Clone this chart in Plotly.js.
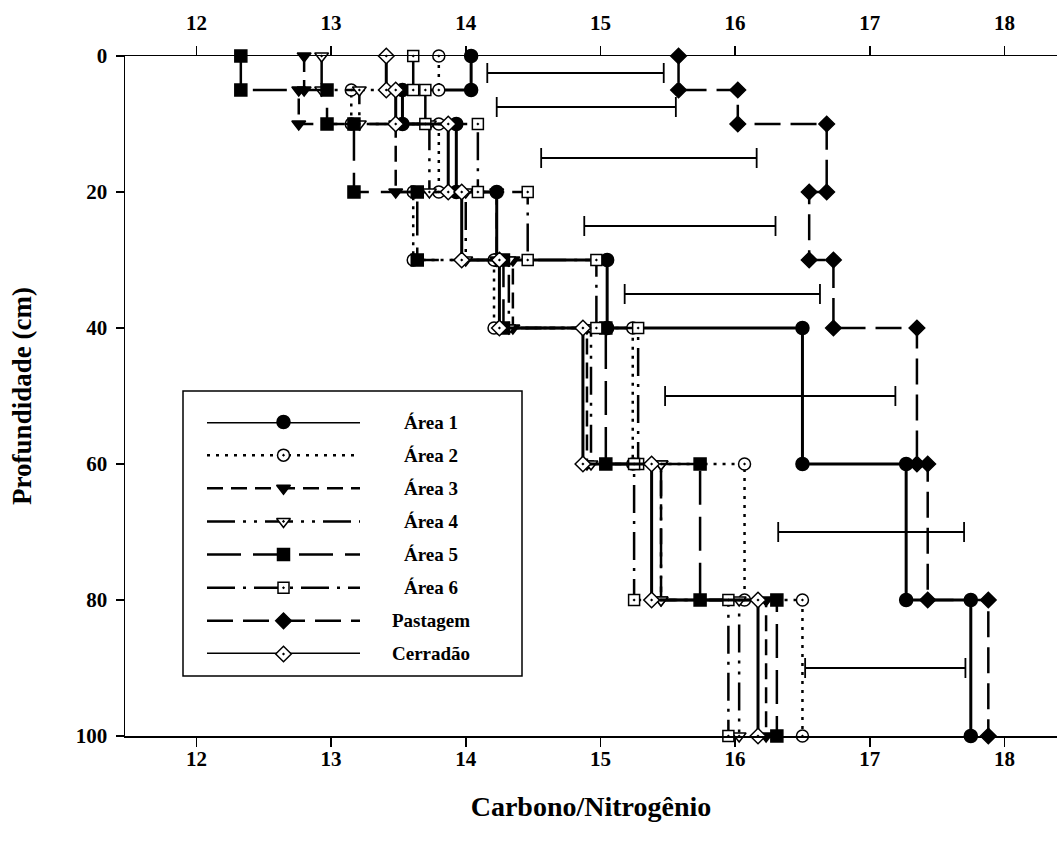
<!DOCTYPE html>
<html><head><meta charset="utf-8">
<script src="https://cdn.plot.ly/plotly-3.0.1.min.js"></script>
<style>html,body{margin:0;padding:0;background:#fff}</style>
</head><body><div id="chart" style="width:1059px;height:845px"></div>
<script>
// ---- data (layer values, C/N ratio) ----
const depthBounds = [0, 5, 10, 20, 30, 40, 60, 80, 100];
const seriesNames = ['Área 1', 'Área 2', 'Área 3', 'Área 4', 'Área 5', 'Área 6', 'Pastagem', 'Cerradão'];
const area1    = [14.04, 13.53, 13.93, 14.23, 15.05, 16.50, 17.27, 17.75];
const area2    = [13.80, 13.15, 13.80, 13.61, 14.21, 15.24, 16.07, 16.50];
const area3    = [12.80, 12.76, 13.48, 14.23, 14.35, 14.90, 15.45, 16.23];
const area4    = [12.93, 13.21, 13.73, 14.00, 14.32, 14.93, 15.45, 16.03];
const area5    = [12.33, 12.97, 13.17, 13.64, 14.28, 15.04, 15.74, 16.31];
const area6    = [13.61, 13.70, 14.09, 14.46, 14.97, 15.28, 15.25, 15.95];
const pastagem = [15.58, 16.02, 16.68, 16.55, 16.73, 17.35, 17.43, 17.88];
const cerradao = [13.41, 13.48, 13.87, 13.97, 14.25, 14.87, 15.38, 16.17];
// LSD bars
const lsdDepth = [2.5, 7.5, 15, 25, 35, 50, 70, 90];
const lsdLow   = [14.16, 14.23, 14.56, 14.88, 15.18, 15.48, 16.32, 16.52];
const lsdHigh  = [15.47, 15.56, 16.16, 16.30, 16.63, 17.19, 17.70, 17.71];
// ticks
const xTicks = [12, 13, 14, 15, 16, 17, 18];
const yTicks = [0, 20, 40, 60, 80, 100];

const allSeries = [area1, area2, area3, area4, area5, area6, pastagem, cerradao];
const styles = [
  {symbol:'circle',            size:13, fill:'#000', dash:'solid',                    width:3},
  {symbol:'circle-dot',        size:12, fill:'#fff', dash:'3px,6px',                  width:2.5},
  {symbol:'triangle-down',     size:12, fill:'#000', dash:'16px,8px',                 width:2.5},
  {symbol:'triangle-down-dot', size:12, fill:'#fff', dash:'28px,8px,3px,8px,3px,8px', width:2.5},
  {symbol:'square',            size:12, fill:'#000', dash:'34px,12px',                width:2.5},
  {symbol:'square-dot',        size:11, fill:'#fff', dash:'28px,8px,3px,8px',         width:2.5},
  {symbol:'diamond',           size:12, fill:'#000', dash:'26px,10px',                width:2.5},
  {symbol:'diamond-dot',       size:12, fill:'#fff', dash:'solid',                    width:3}
];

function stepXY(vals) {
  const x = [], y = [];
  vals.forEach((v, i) => { x.push(v, v); y.push(depthBounds[i], depthBounds[i + 1]); });
  return {x, y};
}

const traces = [];
// LSD bars
traces.push({
  type:'scatter', mode:'markers',
  x: lsdLow.map((l, i) => (l + lsdHigh[i]) / 2),
  y: lsdDepth,
  marker:{size:1, opacity:0},
  error_x:{type:'data', symmetric:true, array: lsdLow.map((l, i) => (lsdHigh[i] - l) / 2),
           color:'#000', thickness:1.8, width:10},
  cliponaxis:false, hoverinfo:'skip', showlegend:false
});
allSeries.forEach((vals, k) => {
  const s = styles[k];
  const p = stepXY(vals);
  traces.push({
    type:'scatter', mode:'lines+markers', name: seriesNames[k],
    x: p.x, y: p.y,
    line:{color:'#000', width:s.width, dash:s.dash},
    marker:{symbol:s.symbol, size:s.size, color:s.fill, line:{color:'#000', width:1.5}},
    cliponaxis:false, showlegend:false
  });
});
// top axis host (draws nothing)
traces.push({type:'scatter', mode:'none', x: stepXY(area1).x, y: stepXY(area1).y, xaxis:'x2', yaxis:'y', hoverinfo:'skip', showlegend:false});

// custom legend subplot (long line samples like the original)
const annotations = [];
const legYTop = 422, legStep = 33.14, plotTop = 56, plotH = 680, plotL = 125, plotW = 932;
seriesNames.forEach((nm, k) => {
  const s = styles[k];
  traces.push({type:'scatter', mode:'lines', x:[0, 1], y:[k, k], xaxis:'x3', yaxis:'y3',
    line:{color:'#000', width:s.width, dash:s.dash}, cliponaxis:false, hoverinfo:'skip', showlegend:false});
  traces.push({type:'scatter', mode:'markers', x:[0.5], y:[k], xaxis:'x3', yaxis:'y3',
    marker:{symbol:s.symbol, size:s.size, color:s.fill, line:{color:'#000', width:1.5}},
    cliponaxis:false, hoverinfo:'skip', showlegend:false});
  annotations.push({xref:'paper', yref:'paper', x:(431 - plotL) / plotW,
    y: 1 - (legYTop + k * legStep - plotTop) / plotH, xanchor:'center', yanchor:'middle',
    text: nm, showarrow:false, font:{family:'Liberation Serif', size:19, weight:700, color:'#000'}});
});

const axCommon = {
  range:[11.47, 18.39], tickvals:xTicks, ticks:'outside', ticklen:9, tickwidth:1.5, tickcolor:'#000',
  showline:true, linewidth:1.5, linecolor:'#000', showgrid:false, zeroline:false,
  tickfont:{family:'Liberation Serif', size:21, weight:700, color:'#000'}
};

const layout = {
  width:1059, height:845,
  margin:{l:125, r:2, t:56, b:109, pad:0},
  paper_bgcolor:'#fff', plot_bgcolor:'rgba(0,0,0,0)',
  showlegend:false,
  font:{family:'Liberation Serif', color:'#000'},
  xaxis: Object.assign({}, axCommon, {side:'bottom', anchor:'y', ticklabelstandoff:-6,
    title:{text:'Carbono/Nitrogênio', font:{family:'Liberation Serif', size:28, weight:700, color:'#000'}, standoff:26}}),
  xaxis2: Object.assign({}, axCommon, {side:'top', overlaying:'x', anchor:'y', ticklabelstandoff:7}),
  yaxis:{range:[100, 0], tickvals:yTicks, ticks:'outside', ticklen:8, tickwidth:1.5, tickcolor:'#000',
    showline:true, linewidth:1.5, linecolor:'#000', showgrid:false, zeroline:false, ticklabelstandoff:4,
    tickfont:{family:'Liberation Serif', size:21, weight:700, color:'#000'},
    title:{text:'Profundidade (cm)', font:{family:'Liberation Serif', size:27, weight:700, color:'#000'}, standoff:36}},
  xaxis3:{domain:[(207 - plotL) / plotW, (360 - plotL) / plotW], anchor:'y3', range:[0, 1], visible:false, fixedrange:true},
  yaxis3:{domain:[1 - (654 - plotTop) / plotH, 1 - (422 - plotTop) / plotH], anchor:'x3', range:[7, 0], visible:false, fixedrange:true},
  shapes:[{type:'rect', xref:'paper', yref:'paper', layer:'below',
    x0:(183 - plotL) / plotW, x1:(522 - plotL) / plotW, y0:1 - (676 - plotTop) / plotH, y1:1 - (391 - plotTop) / plotH,
    line:{color:'#000', width:1.5}, fillcolor:'#fff'}],
  annotations: annotations
};

Plotly.newPlot('chart', traces, layout, {displayModeBar:false, staticPlot:true});
</script>
</body></html>
